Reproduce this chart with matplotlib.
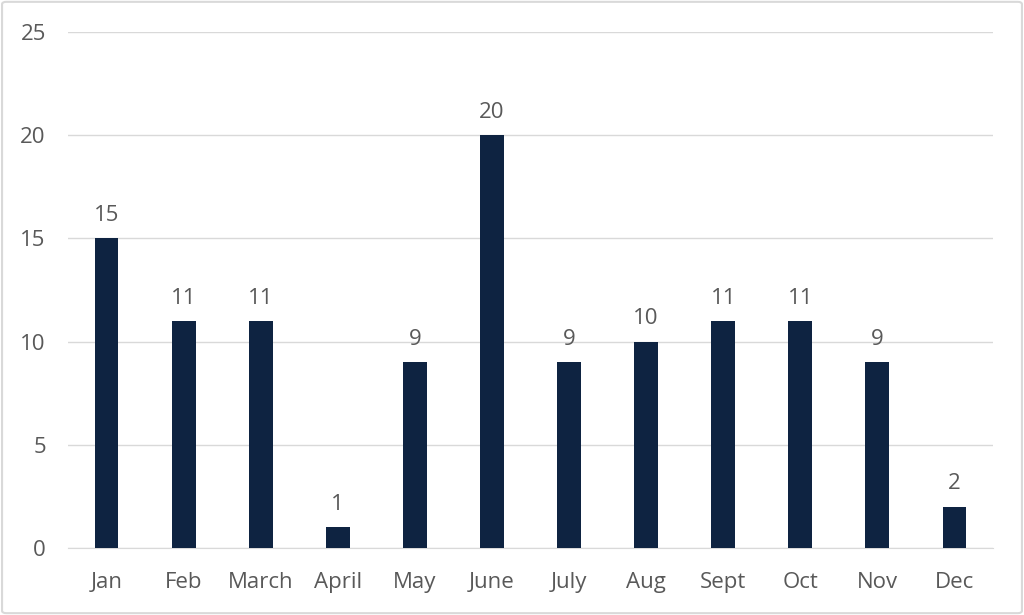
import matplotlib.pyplot as plt
from matplotlib.patches import FancyBboxPatch

months = ['Jan', 'Feb', 'March', 'April', 'May', 'June', 'July', 'Aug', 'Sept', 'Oct', 'Nov', 'Dec']
counts = [15, 11, 11, 1, 9, 20, 9, 10, 11, 11, 9, 2]
yticks = [0, 5, 10, 15, 20, 25]

plt.rcParams['font.family'] = ['Open Sans', 'DejaVu Sans']
txt = '#595959'

fig = plt.figure(figsize=(10.24, 6.15), dpi=100)
fig.patch.set_facecolor('white')
# light grey outer frame like the office chart border
fig.patches.append(FancyBboxPatch((0.002, 0.003), 0.996, 0.994, boxstyle='round,pad=0,rounding_size=0.004',
                                  transform=fig.transFigure, fill=False, edgecolor='#d9d9d9', linewidth=1.5))

ax = fig.add_axes([68 / 1024, 1 - 548 / 615, 925 / 1024, 516 / 615])
x = range(len(months))
bars = ax.bar(x, counts, width=0.31, color='#0e2341', zorder=3)
for b, v in zip(bars, counts):
    ax.text(b.get_x() + b.get_width() / 2, v + 0.6, str(v), ha='center', va='bottom',
            fontsize=16, color=txt)

ax.set_xlim(-0.5, len(months) - 0.5)
ax.set_ylim(0, 25)
ax.set_yticks(yticks)
ax.set_xticks(list(x))
ax.set_xticklabels(months)
ax.yaxis.grid(True, color='#d9d9d9', linewidth=1, zorder=0)
for s in ['top', 'right', 'left']:
    ax.spines[s].set_visible(False)
ax.spines['bottom'].set_color('#d9d9d9')
ax.tick_params(axis='both', length=0, labelsize=16, colors=txt)
ax.tick_params(axis='y', pad=16)
ax.tick_params(axis='x', pad=17)

fig.savefig('out.png', dpi=100)
